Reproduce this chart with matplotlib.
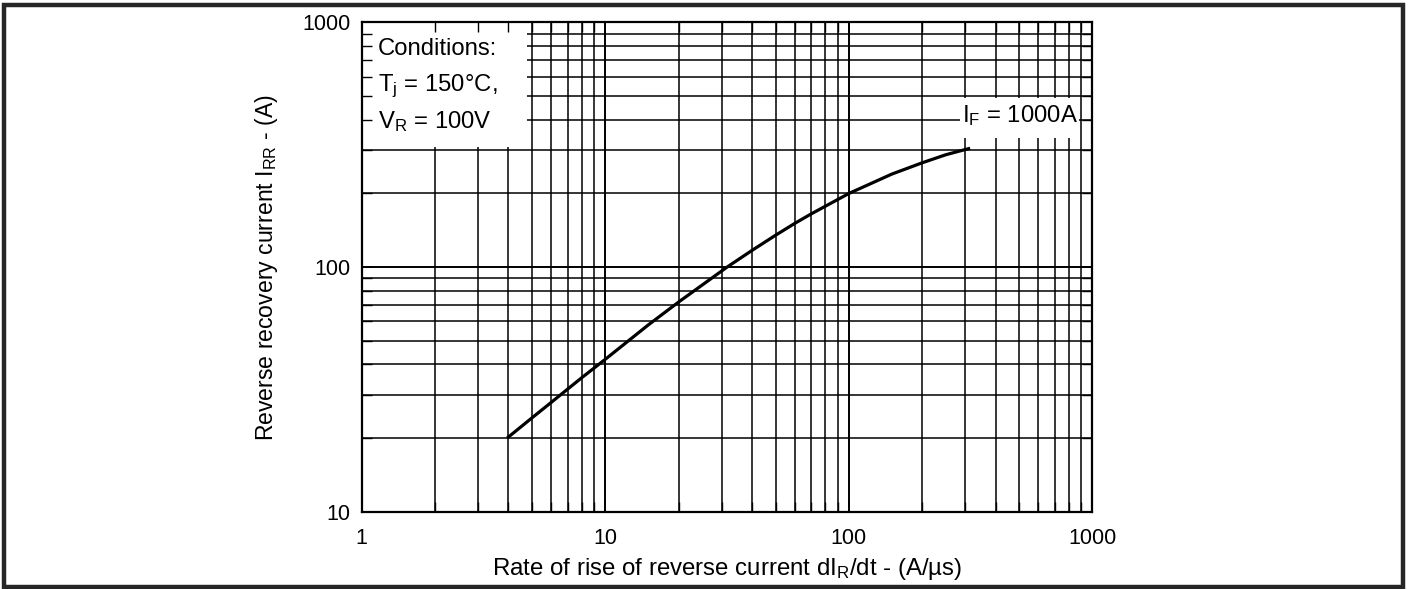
import matplotlib
matplotlib.use('Agg')
import matplotlib.pyplot as plt
import matplotlib.ticker as ticker
from matplotlib.patches import Rectangle

plt.rcParams['font.family'] = ['Liberation Sans', 'DejaVu Sans']
plt.rcParams['mathtext.fontset'] = 'custom'
plt.rcParams['mathtext.rm'] = 'Liberation Sans'
plt.rcParams['mathtext.it'] = 'Liberation Sans:italic'

# curve (I_F = 1000A)
di_dt = [4, 5, 6, 8, 10, 15, 20, 31.6, 40, 50, 60, 70, 100, 150, 200, 250, 310]
i_rr = [20.2, 24.2, 28.0, 35.3, 42, 58, 72, 100, 117, 135, 151, 165, 200, 240, 267, 288, 305]

x_ticks = [1, 10, 100, 1000]
y_ticks = [10, 100, 1000]
condicoes = ['Conditions:', r'T$_{\mathregular{j}}$ = 150°C,', r'V$_{\mathregular{R}}$ = 100V']
rotulo_curva = r'I$_{\mathregular{F}}$ = 1000A'


def configurar_log(ax):
    ax.set_xscale('log')
    ax.set_yscale('log')
    ax.set_xlim(1, 1000)
    ax.set_ylim(10, 1000)
    ax.xaxis.set_major_locator(ticker.FixedLocator(x_ticks))
    ax.yaxis.set_major_locator(ticker.FixedLocator(y_ticks))
    ax.xaxis.set_minor_locator(ticker.LogLocator(base=10, subs=range(2, 10)))
    ax.yaxis.set_minor_locator(ticker.LogLocator(base=10, subs=range(2, 10)))
    ax.xaxis.set_minor_formatter(ticker.NullFormatter())
    ax.yaxis.set_minor_formatter(ticker.NullFormatter())


fig = plt.figure(figsize=(14.12, 5.89), dpi=100)
pos = [0.2562, 0.1312, 0.5175, 0.8306]
ax = fig.add_axes(pos)
configurar_log(ax)
ax.set_axisbelow(True)
ax.grid(True, which='major', color='black', linewidth=1.4)
ax.grid(True, which='minor', color='black', linewidth=1.1)
ax.tick_params(which='both', length=0)
ax.xaxis.set_major_formatter(ticker.FuncFormatter(lambda v, p: f'{v:g}'))
ax.yaxis.set_major_formatter(ticker.FuncFormatter(lambda v, p: f'{v:g}'))
ax.tick_params(axis='x', labelsize=15.5, pad=12)
ax.tick_params(axis='y', labelsize=15.5, pad=8)
for s in ax.spines.values():
    s.set_visible(False)

# white boxes hiding the grid behind the annotations
ax.add_patch(Rectangle((0, 0.746), 0.226, 0.254, transform=ax.transAxes,
                       facecolor='white', edgecolor='none', zorder=1))
ax.add_patch(Rectangle((0.819, 0.764), 0.162, 0.081, transform=ax.transAxes,
                       facecolor='white', edgecolor='none', zorder=1))

ax.plot(di_dt, i_rr, color='black', linewidth=2.3, zorder=3)

for texto, yy in zip(condicoes, [0.934, 0.859, 0.784]):
    ax.text(0.0223, yy, texto, transform=ax.transAxes, fontsize=17.2,
            va='baseline', ha='left', zorder=4)
ax.text(0.822, 0.797, rotulo_curva, transform=ax.transAxes, fontsize=17.2,
        va='baseline', ha='left', zorder=4)

ax.set_xlabel(r'Rate of rise of reverse current dI$_{\mathregular{R}}$/dt - (A/µs)',
              fontsize=17.3, labelpad=5)
ax.set_ylabel(r'Reverse recovery current I$_{\mathregular{RR}}$ - (A)',
              fontsize=16.6, labelpad=16)

# overlay axes for the frame and inward ticks
ax2 = fig.add_axes(pos, facecolor='none')
configurar_log(ax2)
ax2.tick_params(which='both', direction='in', top=True, right=True,
                labelbottom=False, labelleft=False, color='black')
ax2.tick_params(which='major', length=8, width=1.2)
ax2.tick_params(which='minor', length=7, width=1.0)
for s in ax2.spines.values():
    s.set_linewidth(1.6)

fig.add_artist(Rectangle((0.0028, 0.003), 0.9908, 0.988, transform=fig.transFigure,
                         facecolor='none', edgecolor='#262626', linewidth=3.2))

fig.savefig('out.png', dpi=100)
plt.close(fig)
